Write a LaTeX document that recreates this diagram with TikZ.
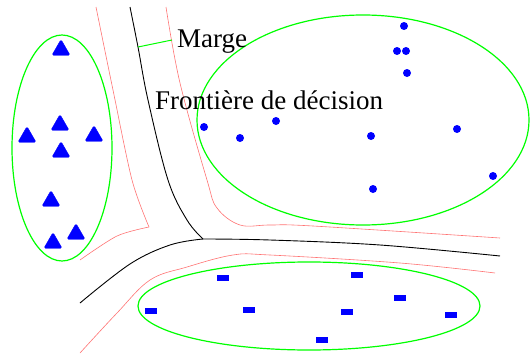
\documentclass[tikz,border=0pt]{standalone}
\usepackage{fontspec}
\setmainfont{Liberation Serif}
\usetikzlibrary{shapes.geometric}

\begin{document}
\begin{tikzpicture}[x=1pt,y=-1pt,
  classe/.style={draw=green, line width=1.2pt},
  frontiere/.style={draw=black, line width=0.9pt},
  bord/.style={draw=red!55, line width=0.6pt},
  tri/.style={regular polygon, regular polygon sides=3, fill=blue, draw=blue,
    rounded corners=1.5pt, minimum size=21pt, inner sep=0pt},
  pt/.style={circle, fill=blue, minimum size=8pt, inner sep=0pt},
  tiret/.style={rectangle, fill=blue, minimum width=12pt, minimum height=6pt, inner sep=0pt},
  etiq/.style={font=\fontsize{27}{32}\selectfont, inner sep=0pt, anchor=base west}]
\useasboundingbox (0,0) rectangle (531,356);

% les trois classes
\draw[classe] (62,148) ellipse (50 and 113);
\draw[classe] (363,120) ellipse (166 and 105);
\draw[classe] (309,306) ellipse (171 and 44);

% frontiere de decision
\draw[frontiere] plot[smooth, tension=0.6] coordinates {(130,7) (138,47) (148,100) (168,180) (187,220) (203,239)};
\draw[frontiere] plot[smooth, tension=0.6] coordinates {(203,239) (270,240) (380,245) (500,256)};
\draw[frontiere] plot[smooth, tension=0.6] coordinates {(203,239) (170,245) (130,264) (80,303)};

% marges
\draw[bord] plot[smooth, tension=0.5] coordinates {(96,7) (113,90) (132,180) (149,227)};
\draw[bord] plot[smooth, tension=0.5] coordinates {(149,227) (117,236) (80,260)};
\draw[bord] plot[smooth, tension=0.6] coordinates {(166,7) (180,83) (207,180) (217,208) (240,225) (270,225) (313,226) (500,238)};
\draw[bord] plot[smooth, tension=0.6] coordinates {(80,353) (117,313) (150,280) (187,267) (233,255) (270,255) (400,263) (495,273)};

% triangles
\foreach \x/\y [count=\i] in {61/50, 60/125, 27/137, 94/136, 61/152, 51/201, 76/234, 53/243}
  \node[tri] (t\i) at (\x,\y) {};

% points
\foreach \x/\y [count=\i] in {404/26, 397/51, 406/51, 407/73, 204/127, 240/138, 276/121, 371/136, 457/129, 493/176, 373/189}
  \node[pt] (p\i) at (\x,\y) {};

% tirets
\foreach \x/\y [count=\i] in {223/278, 151/311, 249/310, 357/275, 400/298, 347/312, 451/315, 322/340}
  \node[tiret] (r\i) at (\x,\y) {};

% textes
\node[etiq] (marge) at (177,47) {Marge};
\node[etiq] (front) at (155,109) {Frontière de décision};
\coordinate (m1) at (138,47);
\coordinate (m2) at (172,40);
\draw[green, line width=1pt] (m1) -- (m2);
\end{tikzpicture}
\end{document}
